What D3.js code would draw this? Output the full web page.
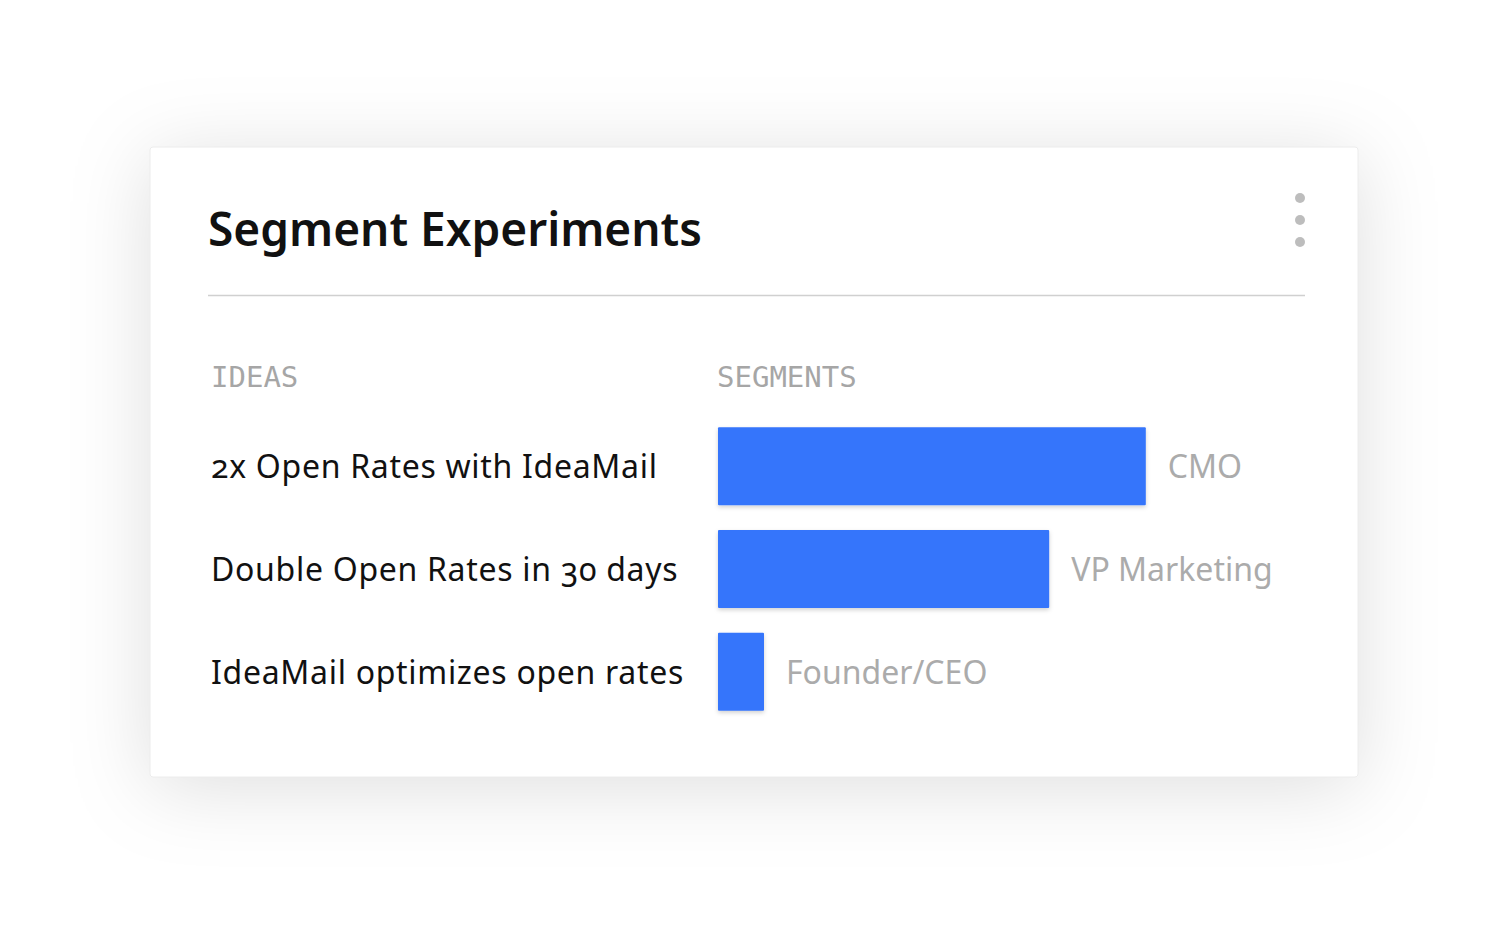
<!DOCTYPE html>
<html><head><meta charset="utf-8">
<script src="https://cdn.jsdelivr.net/npm/d3@7"></script>
<style>
html,body{margin:0;padding:0;background:#fff;}
svg{display:block;}
</style></head>
<body>
<svg id="chart" width="1508" height="930"></svg>
<script>
const title = "Segment Experiments";
const headers = ["IDEAS", "SEGMENTS"];
const ideas = ["2x Open Rates with IdeaMail", "Double Open Rates in 30 days", "IdeaMail optimizes open rates"];
const segments = ["CMO", "VP Marketing", "Founder/CEO"];
const values = [93, 72, 10];

const svg = d3.select("#chart");
const defs = svg.append("defs");
const f = defs.append("filter").attr("id","cardShadow").attr("x","-30%").attr("y","-40%").attr("width","160%").attr("height","180%");
f.append("feDropShadow").attr("dx",0).attr("dy",10).attr("stdDeviation",40).attr("flood-color","#000").attr("flood-opacity",0.13);
const fb = defs.append("filter").attr("id","barShadow").attr("x","-10%").attr("y","-20%").attr("width","120%").attr("height","150%");
fb.append("feDropShadow").attr("dx",0).attr("dy",2).attr("stdDeviation",2).attr("flood-color","#000").attr("flood-opacity",0.18);

const card = {x:150, y:147, w:1208, h:630};
svg.append("rect").attr("x",card.x).attr("y",card.y).attr("width",card.w).attr("height",card.h)
  .attr("rx",3).attr("fill","#fff").attr("filter","url(#cardShadow)");
svg.append("rect").attr("x",card.x).attr("y",card.y).attr("width",card.w).attr("height",card.h)
  .attr("rx",3).attr("fill","#fff").attr("stroke","#ececec").attr("stroke-width",1);

svg.append("text").attr("x",208).attr("y",246).text(title)
  .attr("font-family","'Noto Sans', sans-serif").attr("font-weight",600).attr("font-size",46).attr("fill","#111");

svg.append("line").attr("x1",208).attr("x2",1305).attr("y1",295.5).attr("y2",295.5)
  .attr("stroke","#d0d0d0").attr("stroke-width",1.5);

svg.selectAll("circle.dot").data([0,1,2]).join("circle").attr("class","dot")
  .attr("cx",1300).attr("cy",d=>198+d*22).attr("r",5).attr("fill","#bdbdbd");

svg.selectAll("text.hdr").data(headers).join("text").attr("class","hdr")
  .attr("x",(d,i)=>i===0?211:717).attr("y",387).text(d=>d)
  .attr("font-family","'DejaVu Sans Mono', monospace").attr("font-size",29).attr("fill","#a6a6a6");

const y = d3.scaleBand().domain(ideas).range([419, 719]).paddingInner(0.24).paddingOuter(0.08);
const x = d3.scaleLinear().domain([0,100]).range([718, 718+460]);

const rows = svg.selectAll("g.row").data(ideas.map((d,i)=>({idea:d, seg:segments[i], v:values[i]}))).join("g").attr("class","row");
rows.append("rect").attr("x",x(0)).attr("y",d=>y(d.idea)).attr("width",d=>x(d.v)-x(0)).attr("height",y.bandwidth())
  .attr("fill","#3575fb").attr("rx",1).attr("filter","url(#barShadow)");
rows.append("text").attr("x",211).attr("y",d=>y(d.idea)+y.bandwidth()/2).attr("dy","0.38em").text(d=>d.idea)
  .attr("font-family","'Noto Sans', sans-serif").attr("font-size",32).attr("letter-spacing",0.7).attr("fill","#111")
  .style("font-variant-numeric","oldstyle-nums");
rows.append("text").attr("x",d=>x(d.v)+22).attr("y",d=>y(d.idea)+y.bandwidth()/2).attr("dy","0.38em").text(d=>d.seg)
  .attr("font-family","'Noto Sans', sans-serif").attr("font-size",32).attr("fill","#ababab");
</script>
</body></html>
